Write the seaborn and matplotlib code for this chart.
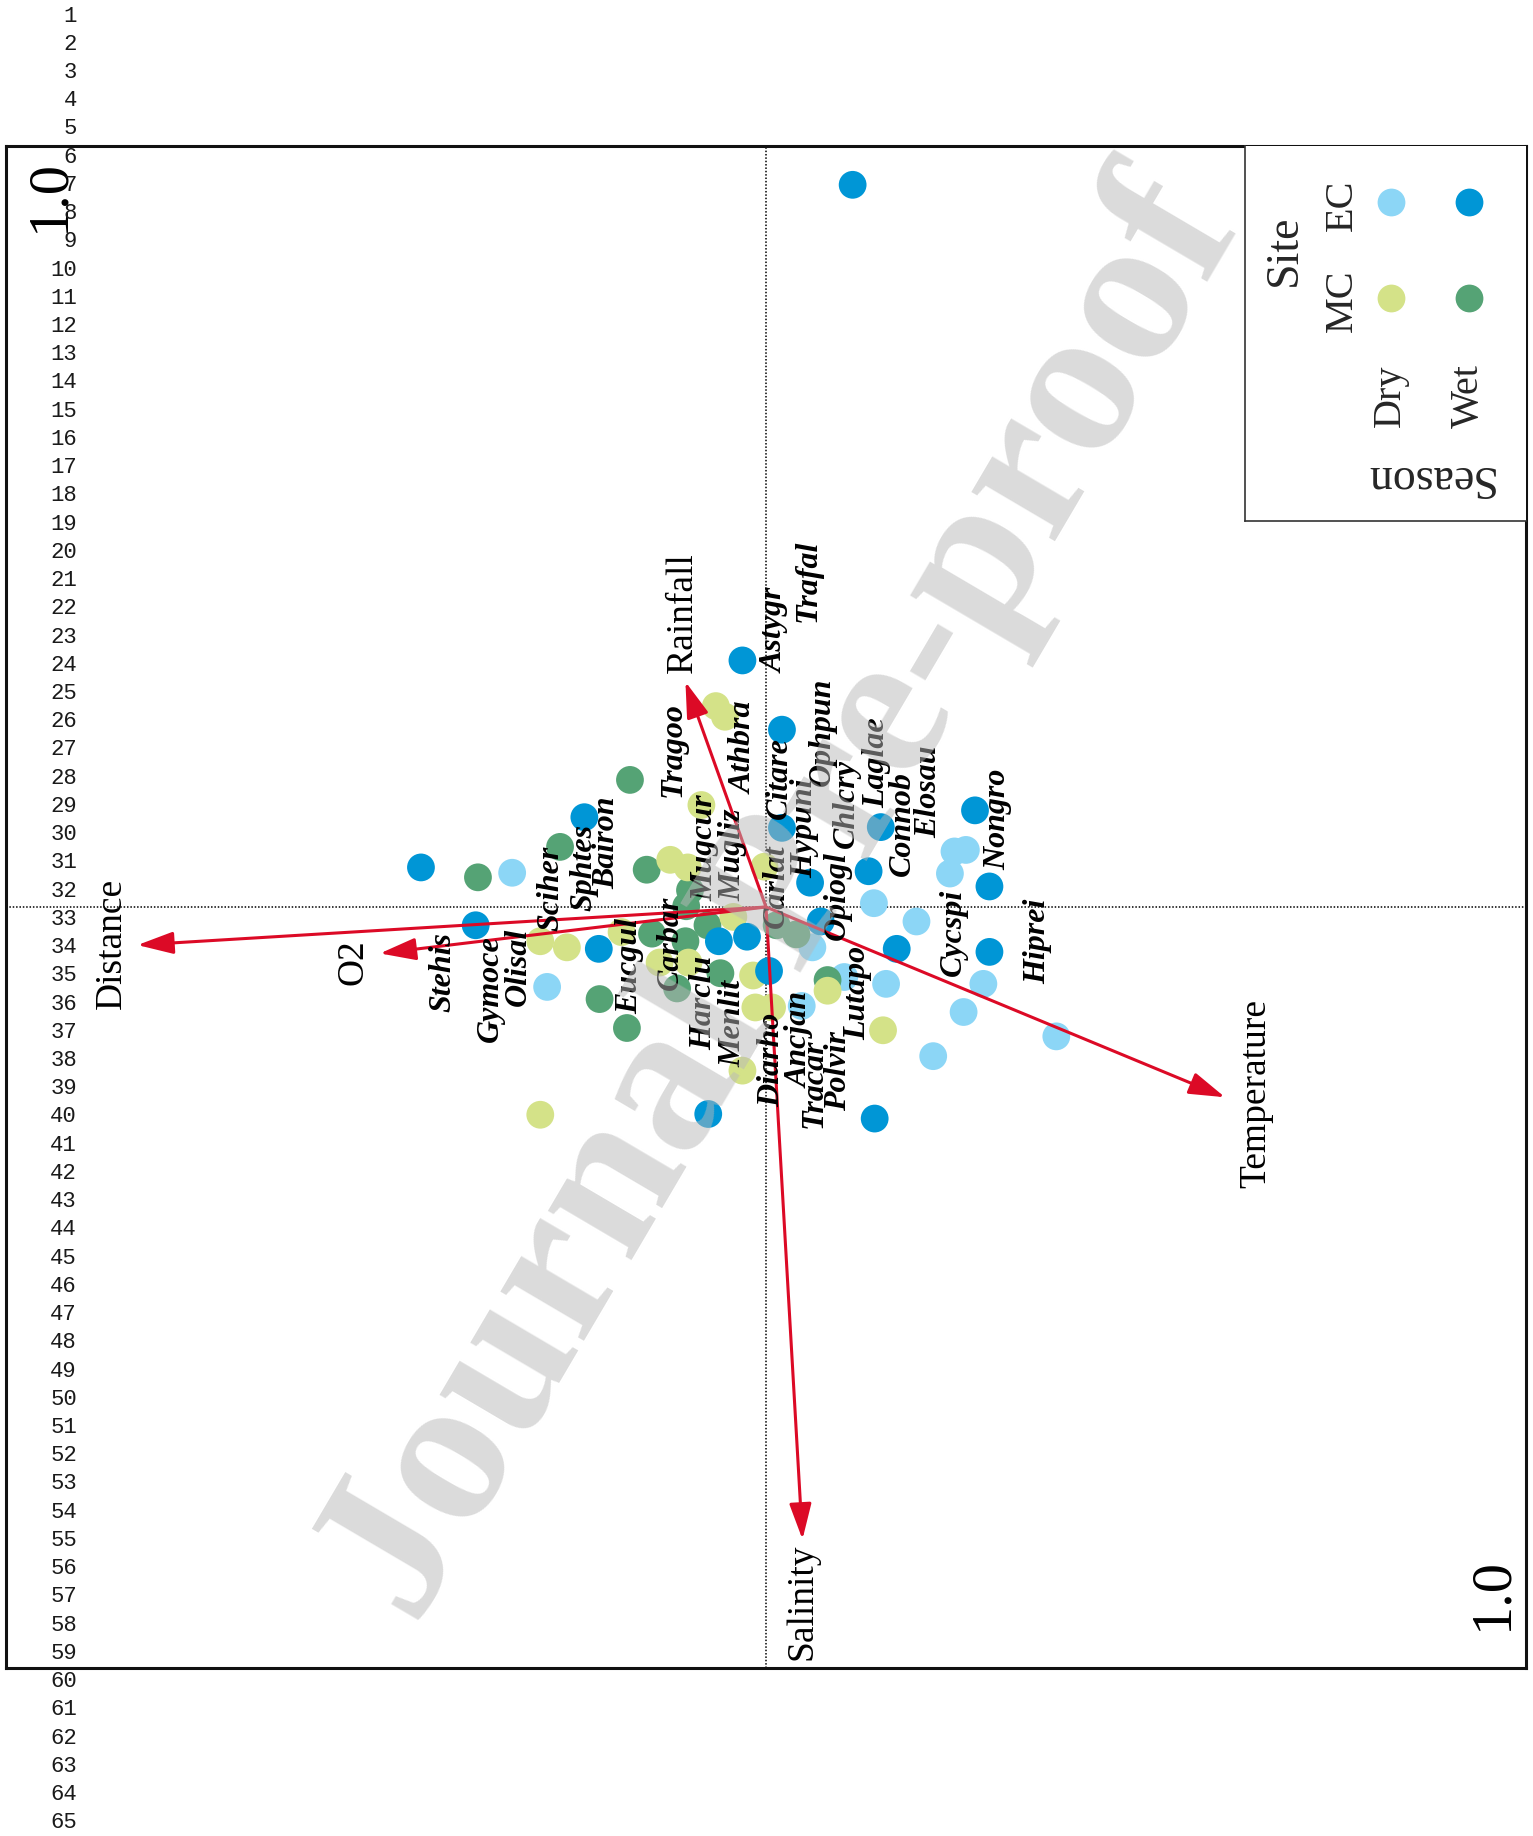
import numpy as np
import pandas as pd
import matplotlib
matplotlib.use("Agg")
import matplotlib.pyplot as plt
import seaborn as sns

# ---- sample scores (CCA axes, as displayed) ----
ec_dry_x = [-0.334, -0.288, 0.142, 0.198, 0.248, 0.263, 0.242, 0.158, 0.286, 0.260, 0.220, 0.382, 0.061, 0.047, 0.103]
ec_dry_y = [0.045, -0.105, 0.005, -0.019, 0.073, 0.075, 0.044, -0.101, -0.101, -0.138, -0.196, -0.170, -0.053, -0.130, -0.092]

ec_wet_x = [0.114, -0.031, 0.021, 0.275, -0.239, 0.021, -0.454, 0.135, 0.058, 0.294, -0.382, 0.072, -0.220,
            -0.062, -0.025, 0.172, 0.294, 0.004, -0.076, 0.143, 0.151]
ec_wet_y = [0.949, 0.324, 0.233, 0.127, 0.118, 0.104, 0.052, 0.047, 0.032, 0.027, -0.024, -0.019, -0.055,
            -0.045, -0.039, -0.055, -0.059, -0.084, -0.272, -0.278, 0.105]

mc_dry_x = [-0.066, -0.054, -0.085, -0.126, -0.103, -0.002, -0.043, -0.297, -0.262, -0.190, -0.140, -0.102,
            -0.017, -0.014, 0.008, 0.081, -0.031, -0.297, 0.154]
mc_dry_y = [0.264, 0.250, 0.134, 0.062, 0.052, 0.053, -0.013, -0.045, -0.053, -0.033, -0.073, -0.073,
            -0.090, -0.132, -0.132, -0.110, -0.215, -0.273, -0.162]

mc_wet_x = [-0.179, -0.271, -0.379, -0.157, -0.100, -0.105, -0.150, -0.106, -0.077, -0.060, -0.117, -0.219,
            -0.183, 0.014, 0.040, 0.081]
mc_wet_y = [0.167, 0.079, 0.039, 0.049, 0.022, 0.001, -0.035, -0.045, -0.024, -0.087, -0.107, -0.121,
            -0.159, -0.024, -0.036, -0.096]

# ---- environmental vectors ----
env_names = ["Rainfall", "Distance", "O2", "Salinity", "Temperature"]
env_x = [-0.106, -0.827, -0.508, 0.048, 0.604]
env_y = [0.296, -0.050, -0.061, -0.831, -0.250]

# ---- species scores ----
species = ["Trafal", "Astygr", "Ophpun", "Athbra", "Tragoo", "Citare", "Chlcry", "Laglae", "Connob",
           "Elosau", "Nongro", "Hypuni", "Mugcur", "Mugliz", "Carlat", "Opiogl", "Bairon", "Sphtes",
           "Sciher", "Stehis", "Gymoce", "Olisal", "Eucgul", "Carbar", "Harclu", "Menlit", "Diarho",
           "Ancjan", "Tracar", "Polvir", "Lutapo", "Cycspi", "Hiprei"]
species_x = [0.055, 0.012, 0.074, -0.029, -0.122, 0.017, 0.106, 0.146, 0.180, 0.214, 0.305, 0.051,
             -0.080, -0.043, 0.014, 0.094, -0.210, -0.240, -0.283, -0.425, -0.363, -0.326, -0.179,
             -0.126, -0.082, -0.043, 0.008, 0.045, 0.064, 0.095, 0.121, 0.247, 0.357]
species_y = [0.429, 0.364, 0.230, 0.209, 0.207, 0.170, 0.136, 0.189, 0.110, 0.152, 0.115, 0.104,
             0.078, 0.069, 0.027, 0.015, 0.085, 0.052, 0.024, -0.086, -0.107, -0.079, -0.078,
             -0.047, -0.126, -0.153, -0.201, -0.175, -0.232, -0.215, -0.113, -0.034, -0.045]

site_labels = ["EC", "MC"]
season_labels = ["Dry", "Wet"]
palette = {("EC", "Dry"): "#8CD6F6", ("EC", "Wet"): "#0096D6",
           ("MC", "Dry"): "#D4E288", ("MC", "Wet"): "#55A375"}

# stacking order of the groups in the scatter
groups = [("EC", "Dry", ec_dry_x, ec_dry_y), ("MC", "Wet", mc_wet_x, mc_wet_y),
          ("MC", "Dry", mc_dry_x, mc_dry_y), ("EC", "Wet", ec_wet_x, ec_wet_y)]
df = pd.concat([pd.DataFrame({"x": gx, "y": gy, "Site": s, "Season": se, "group": f"{s} {se}"})
                for s, se, gx, gy in groups], ignore_index=True)
hue_pal = {f"{s} {se}": c for (s, se), c in palette.items()}

sns.set_theme(style="white")
plt.rcParams["font.family"] = ["Liberation Serif", "DejaVu Serif"]

W, H = 1533, 1836
fig = plt.figure(figsize=(W / 100, H / 100), dpi=100)
fig.patch.set_facecolor("white")

def fx(px):
    return px / W

def fy(py):
    return 1 - py / H

L, R, T, B = 6, 1526, 146, 1668
ax = fig.add_axes([fx(L), fy(B), (R - L) / W, (B - T) / H])
ax.set_xlim(-1, 1)
ax.set_ylim(-1, 1)
ax.set_xticks([])
ax.set_yticks([])
ax.set_facecolor("white")
for sp in ax.spines.values():
    sp.set_visible(True)
    sp.set_color("#111111")
    sp.set_linewidth(2.2)

# crosshair through the origin
ax.axhline(0, color="black", lw=1.1, ls=(0, (1, 1.2)), zorder=1)
ax.axvline(0, color="black", lw=1.1, ls=(0, (1, 1.2)), zorder=1)

sns.scatterplot(data=df, x="x", y="y", hue="group", palette=hue_pal, s=400, linewidth=0,
                legend=False, ax=ax, zorder=3)
ax.set_xlabel("")
ax.set_ylabel("")

# environmental arrows
red = "#DC0A26"
label_place = {
    "Rainfall": dict(offset=(-2, 6), ha="center", va="bottom"),
    "Distance": dict(offset=(-6.5, 1.5), ha="right", va="center"),
    "O2": dict(offset=(-7, -6), ha="right", va="center"),
    "Salinity": dict(offset=(0, -3), ha="center", va="top"),
    "Temperature": dict(offset=(10, 3), ha="left", va="center"),
}
for name, ex, ey in zip(env_names, env_x, env_y):
    ax.annotate("", xy=(ex, ey), xytext=(0, 0),
                arrowprops=dict(arrowstyle="-|>,head_length=1.1,head_width=0.34", color=red,
                                lw=2.2, mutation_scale=20, shrinkA=0, shrinkB=0), zorder=5)
    p = label_place[name]
    ax.annotate(name, xy=(ex, ey), xytext=p["offset"], textcoords="offset points",
                rotation=90, ha=p["ha"], va=p["va"], fontsize=27, color="black", zorder=6)

# species names
for name, sx, sy in zip(species, species_x, species_y):
    ax.text(sx, sy, name, rotation=90, ha="center", va="center", fontsize=23,
            fontweight="bold", fontstyle="italic", color="black", zorder=6)

# axis extent marks
fig.text(fx(49), fy(196), "1.0", rotation=90, ha="center", va="center", fontsize=42, color="black")
fig.text(fx(1492), fy(1594), "1.0", rotation=90, ha="center", va="center", fontsize=42, color="black")

# legend box (Site x Season)
LL, LR, LT, LB = 1245, 1526, 146, 521
lax = fig.add_axes([fx(LL), fy(LB), (LR - LL) / W, (LB - LT) / H])
lax.set_xlim(LL, LR)
lax.set_ylim(LB, LT)
lax.set_xticks([])
lax.set_yticks([])
lax.patch.set_facecolor("white")
for k, sp in lax.spines.items():
    sp.set_visible(k in ("left", "bottom"))
    sp.set_color("#333333")
    sp.set_linewidth(1.2)
col_x = {"Dry": 1391, "Wet": 1469}
row_y = {"EC": 202, "MC": 298}
for (s, se), c in palette.items():
    lax.scatter([col_x[se]], [row_y[s]], s=400, color=c, linewidths=0, zorder=3)
lax.text(1285, 250, "Site", rotation=90, ha="center", va="center", fontsize=33)
for s in site_labels:
    lax.text(1342, row_y[s] + 3, s, rotation=90, ha="center", va="center", fontsize=29)
for se in season_labels:
    lax.text(col_x[se] - 1, 396, se, rotation=90, ha="center", va="center", fontsize=29)
lax.text(1428, 477, "Season", rotation=180, ha="center", va="center", fontsize=33)

# line numbering down the page margin
for n in range(1, 66):
    fig.text(fx(77), fy(16 + (n - 1) * 28.23), str(n), ha="right", va="center",
             fontsize=16, family=["Liberation Mono", "DejaVu Sans Mono"], color="#1a1a1a")

# watermark stamped over the page
fig.text(fx(783), fy(900), "Journal Pre-proof", rotation=59.5, rotation_mode="anchor",
         ha="center", va="center", fontsize=152, fontweight="bold",
         color=(0.72, 0.72, 0.72), alpha=0.5, zorder=20)

fig.savefig("out.png", dpi=100, facecolor="white")
